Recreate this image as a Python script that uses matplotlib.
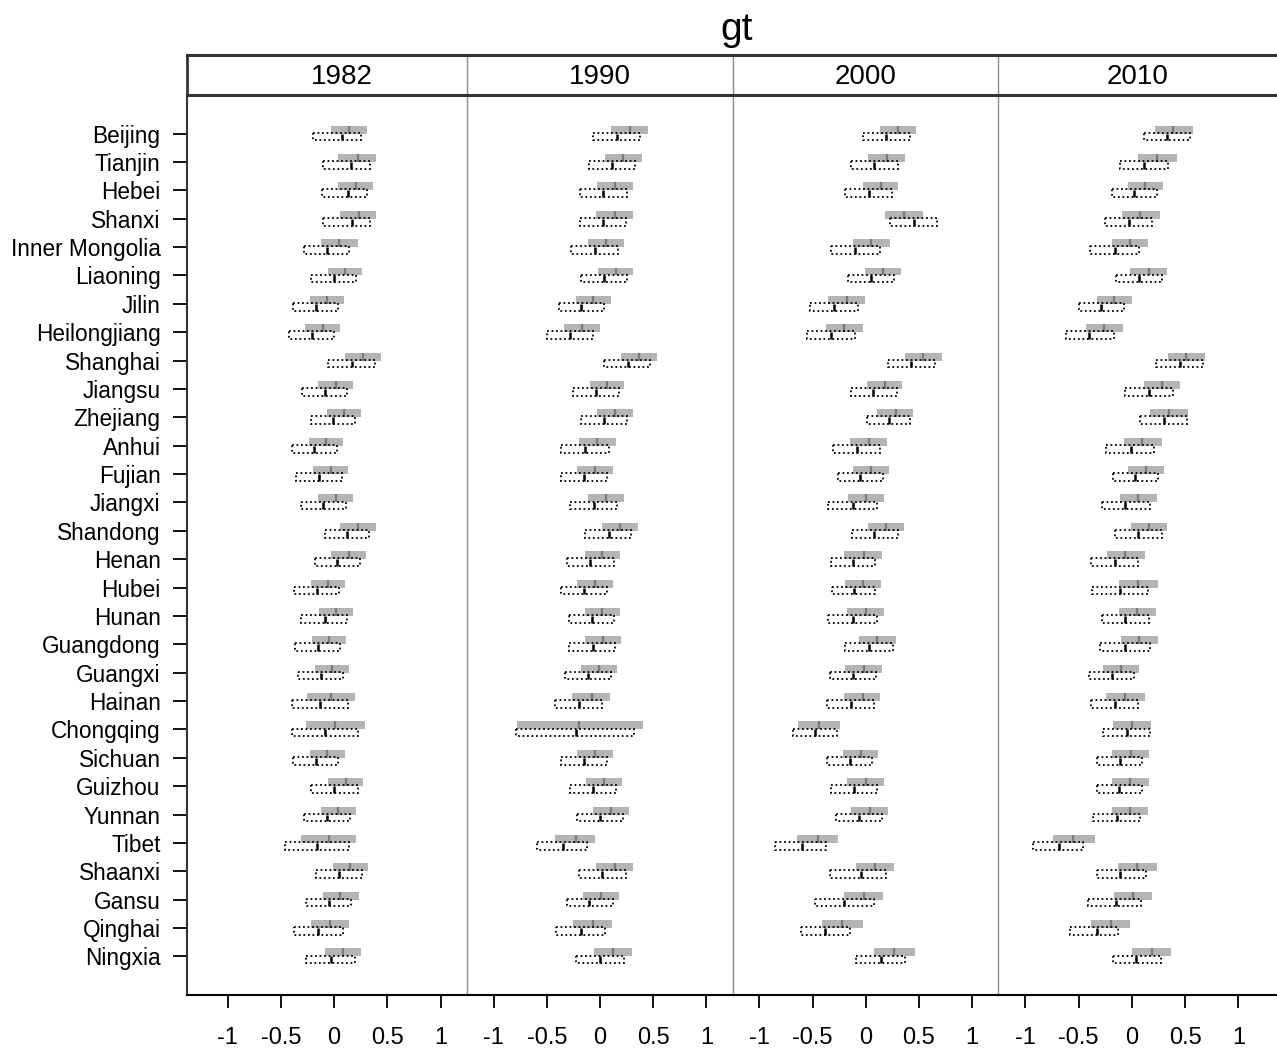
import matplotlib
matplotlib.use("Agg")
import matplotlib.pyplot as plt
import numpy as np

plt.rcParams['font.family'] = ['Liberation Sans', 'DejaVu Sans']

provinces = ["Beijing", "Tianjin", "Hebei", "Shanxi", "Inner Mongolia", "Liaoning", "Jilin",
             "Heilongjiang", "Shanghai", "Jiangsu", "Zhejiang", "Anhui", "Fujian", "Jiangxi",
             "Shandong", "Henan", "Hubei", "Hunan", "Guangdong", "Guangxi", "Hainan",
             "Chongqing", "Sichuan", "Guizhou", "Yunnan", "Tibet", "Shaanxi", "Gansu",
             "Qinghai", "Ningxia"]
years = ["1982", "1990", "2000", "2010"]

# ---- 1982 ----
g82_lo = [-0.03, 0.04, 0.04, 0.06, -0.12, -0.06, -0.23, -0.27, 0.10, -0.15, -0.07, -0.24, -0.20, -0.15, 0.06,
          -0.03, -0.22, -0.14, -0.21, -0.18, -0.25, -0.26, -0.23, -0.06, -0.12, -0.31, -0.01, -0.10, -0.22, -0.09]
g82_hi = [0.31, 0.39, 0.37, 0.39, 0.22, 0.26, 0.09, 0.06, 0.44, 0.18, 0.25, 0.08, 0.13, 0.18, 0.39,
          0.30, 0.10, 0.18, 0.11, 0.14, 0.20, 0.29, 0.10, 0.27, 0.21, 0.21, 0.32, 0.23, 0.14, 0.25]
g82_md = [0.14, 0.22, 0.21, 0.23, 0.05, 0.10, -0.07, -0.10, 0.27, 0.02, 0.09, -0.08, -0.03, 0.02, 0.22,
          0.14, -0.06, 0.02, -0.05, -0.02, -0.03, 0.01, -0.07, 0.11, 0.04, -0.05, 0.15, 0.06, -0.04, 0.08]
d82_lo = [-0.20, -0.10, -0.11, -0.10, -0.28, -0.22, -0.39, -0.42, -0.06, -0.30, -0.22, -0.40, -0.36, -0.31, -0.09,
          -0.18, -0.38, -0.31, -0.37, -0.34, -0.40, -0.40, -0.39, -0.22, -0.28, -0.46, -0.17, -0.26, -0.38, -0.26]
d82_hi = [0.25, 0.34, 0.31, 0.34, 0.14, 0.21, 0.04, 0.00, 0.38, 0.12, 0.20, 0.03, 0.07, 0.11, 0.33,
          0.24, 0.05, 0.12, 0.06, 0.08, 0.13, 0.22, 0.04, 0.22, 0.15, 0.14, 0.26, 0.16, 0.08, 0.20]
d82_md = [0.07, 0.16, 0.13, 0.17, -0.07, 0.00, -0.17, -0.21, 0.17, -0.09, -0.01, -0.19, -0.14, -0.10, 0.12,
          0.03, -0.16, -0.09, -0.15, -0.12, -0.13, -0.09, -0.17, 0.00, -0.07, -0.16, 0.05, -0.05, -0.15, -0.03]

# ---- 1990 ----
g90_lo = [0.10, 0.05, -0.03, -0.04, -0.11, -0.02, -0.23, -0.34, 0.20, -0.09, -0.03, -0.20, -0.22, -0.11, 0.02,
          -0.14, -0.22, -0.14, -0.14, -0.18, -0.26, -0.78, -0.22, -0.13, -0.07, -0.42, -0.04, -0.16, -0.25, -0.06]
g90_hi = [0.45, 0.39, 0.31, 0.31, 0.23, 0.31, 0.10, 0.00, 0.54, 0.23, 0.31, 0.15, 0.12, 0.23, 0.36,
          0.19, 0.12, 0.19, 0.20, 0.16, 0.09, 0.40, 0.12, 0.21, 0.27, -0.05, 0.31, 0.18, 0.11, 0.30]
g90_md = [0.28, 0.22, 0.14, 0.14, 0.06, 0.15, -0.07, -0.17, 0.37, 0.07, 0.14, -0.03, -0.05, 0.06, 0.19,
          0.02, -0.05, 0.02, 0.03, -0.01, -0.08, -0.20, -0.05, 0.04, 0.10, -0.23, 0.14, 0.01, -0.07, 0.12]
d90_lo = [-0.07, -0.10, -0.19, -0.19, -0.27, -0.18, -0.39, -0.50, 0.04, -0.25, -0.18, -0.37, -0.37, -0.28, -0.14,
          -0.31, -0.37, -0.29, -0.29, -0.33, -0.42, -0.79, -0.37, -0.28, -0.22, -0.59, -0.20, -0.31, -0.41, -0.23]
d90_hi = [0.38, 0.33, 0.25, 0.24, 0.17, 0.25, 0.04, -0.07, 0.47, 0.18, 0.25, 0.08, 0.07, 0.16, 0.29,
          0.13, 0.07, 0.13, 0.14, 0.10, 0.02, 0.32, 0.07, 0.15, 0.22, -0.12, 0.24, 0.12, 0.05, 0.23]
d90_md = [0.16, 0.11, 0.03, 0.03, -0.05, 0.04, -0.18, -0.28, 0.26, -0.04, 0.04, -0.14, -0.15, -0.06, 0.08,
          -0.09, -0.15, -0.08, -0.07, -0.11, -0.20, -0.23, -0.15, -0.07, 0.00, -0.35, 0.02, -0.10, -0.18, 0.00]

# ---- 2000 ----
g00_lo = [0.13, 0.02, -0.03, 0.18, -0.12, -0.01, -0.35, -0.37, 0.37, 0.01, 0.11, -0.15, -0.12, -0.17, 0.02,
          -0.20, -0.19, -0.18, -0.06, -0.19, -0.20, -0.64, -0.21, -0.18, -0.14, -0.65, -0.09, -0.20, -0.41, 0.08]
g00_hi = [0.47, 0.37, 0.30, 0.54, 0.23, 0.33, -0.01, -0.03, 0.72, 0.34, 0.44, 0.20, 0.22, 0.17, 0.36,
          0.15, 0.14, 0.17, 0.28, 0.15, 0.13, -0.24, 0.12, 0.17, 0.21, -0.26, 0.27, 0.16, -0.03, 0.46]
g00_md = [0.30, 0.20, 0.14, 0.36, 0.05, 0.16, -0.18, -0.20, 0.54, 0.18, 0.28, 0.03, 0.05, 0.00, 0.19,
          -0.02, -0.03, 0.00, 0.11, -0.02, -0.03, -0.44, -0.04, 0.00, 0.04, -0.45, 0.09, -0.02, -0.22, 0.27]
d00_lo = [-0.03, -0.14, -0.19, 0.23, -0.33, -0.17, -0.52, -0.55, 0.21, -0.14, 0.01, -0.31, -0.26, -0.35, -0.13,
          -0.33, -0.32, -0.35, -0.19, -0.34, -0.36, -0.68, -0.36, -0.33, -0.28, -0.85, -0.34, -0.48, -0.61, -0.09]
d00_hi = [0.42, 0.30, 0.25, 0.67, 0.13, 0.27, -0.07, -0.10, 0.65, 0.29, 0.42, 0.13, 0.16, 0.11, 0.30,
          0.09, 0.09, 0.11, 0.26, 0.10, 0.08, -0.27, 0.06, 0.11, 0.15, -0.37, 0.19, 0.08, -0.15, 0.37]
d00_md = [0.19, 0.08, 0.03, 0.45, -0.10, 0.05, -0.30, -0.33, 0.43, 0.07, 0.22, -0.08, -0.05, -0.12, 0.08,
          -0.12, -0.11, -0.12, 0.03, -0.12, -0.14, -0.48, -0.15, -0.11, -0.06, -0.60, -0.04, -0.20, -0.38, 0.14]

# ---- 2010 ----
g10_lo = [0.22, 0.06, -0.04, -0.09, -0.19, -0.02, -0.33, -0.43, 0.34, 0.11, 0.17, -0.07, -0.04, -0.11, -0.01,
          -0.23, -0.12, -0.12, -0.10, -0.27, -0.24, -0.18, -0.19, -0.19, -0.19, -0.74, -0.13, -0.17, -0.38, 0.00]
g10_hi = [0.57, 0.42, 0.29, 0.26, 0.15, 0.33, 0.00, -0.08, 0.69, 0.45, 0.53, 0.28, 0.30, 0.24, 0.33,
          0.12, 0.25, 0.23, 0.25, 0.07, 0.12, 0.18, 0.16, 0.16, 0.15, -0.35, 0.24, 0.19, -0.02, 0.37]
g10_md = [0.39, 0.24, 0.12, 0.08, -0.02, 0.16, -0.17, -0.26, 0.51, 0.28, 0.35, 0.10, 0.13, 0.06, 0.16,
          -0.06, 0.06, 0.05, 0.07, -0.10, -0.06, 0.00, -0.01, -0.02, -0.02, -0.55, 0.05, 0.01, -0.20, 0.19]
d10_lo = [0.11, -0.11, -0.19, -0.25, -0.39, -0.15, -0.50, -0.62, 0.23, -0.06, 0.08, -0.24, -0.18, -0.28, -0.16,
          -0.38, -0.37, -0.28, -0.30, -0.40, -0.38, -0.27, -0.33, -0.33, -0.36, -0.93, -0.33, -0.41, -0.58, -0.18]
d10_hi = [0.55, 0.34, 0.24, 0.19, 0.07, 0.28, -0.07, -0.17, 0.67, 0.39, 0.52, 0.21, 0.25, 0.17, 0.28,
          0.06, 0.15, 0.16, 0.17, 0.02, 0.06, 0.17, 0.10, 0.10, 0.08, -0.46, 0.13, 0.09, -0.13, 0.27]
d10_md = [0.33, 0.11, 0.02, -0.03, -0.16, 0.07, -0.29, -0.40, 0.45, 0.16, 0.30, -0.01, 0.03, -0.06, 0.06,
          -0.16, -0.11, -0.06, -0.06, -0.19, -0.16, -0.05, -0.11, -0.12, -0.14, -0.68, -0.11, -0.15, -0.33, 0.04]

panels = [
    (g82_lo, g82_hi, g82_md, d82_lo, d82_hi, d82_md),
    (g90_lo, g90_hi, g90_md, d90_lo, d90_hi, d90_md),
    (g00_lo, g00_hi, g00_md, d00_lo, d00_hi, d00_md),
    (g10_lo, g10_hi, g10_md, d10_lo, d10_hi, d10_md),
]
xticks = [-1, -0.5, 0, 0.5, 1]
xticklabels = ["-1", "-0.5", "0", "0.5", "1"]

W, H = 1277, 1048
fig = plt.figure(figsize=(W / 100, H / 100), dpi=100)

edges = [187, 466.7, 732.7, 998.3, 1279]
xlims = [(-1.382, 1.246), (-1.253, 1.247), (-1.250, 1.246), (-1.254, 1.382)]
top_px, bot_px = 95, 995
strip_top = 55

n = len(provinces)
ypos = np.arange(n)
darkc = "#333333"
gridc = "#8c8c8c"

for k in range(4):
    x0, x1 = edges[k], edges[k + 1]
    ax = fig.add_axes([x0 / W, 1 - bot_px / H, (x1 - x0) / W, (bot_px - top_px) / H])
    glo, ghi, gmd, dlo, dhi, dmd = [np.array(a) for a in panels[k]]
    ax.barh(ypos - 0.14, ghi - glo, left=glo, height=0.28, color="#b4b4b4", edgecolor="none", zorder=2)
    ax.vlines(gmd, ypos - 0.28, ypos, color="#7a7a7a", lw=1.6, zorder=3)
    ax.barh(ypos + 0.105, dhi - dlo, left=dlo, height=0.27, fill=False, edgecolor="black",
            lw=1.3, linestyle=(0, (1, 1.5)), zorder=4)
    ax.vlines(dmd, ypos, ypos + 0.24, color="black", lw=1.8, zorder=5)

    ax.set_xlim(*xlims[k])
    ax.set_ylim(n - 1 + 1.36, -1.36)
    ax.set_xticks(xticks)
    ax.set_xticklabels(xticklabels, fontsize=17)
    ax.tick_params(axis="x", direction="out", length=9, width=1.3, pad=14, color="black")
    if k == 0:
        ax.set_yticks(ypos)
        ax.set_yticklabels(provinces, fontsize=16.3)
        ax.tick_params(axis="y", direction="out", length=10, width=1.3, pad=9, color="black")
    else:
        ax.set_yticks([])
    for s in ["top", "right", "left", "bottom"]:
        ax.spines[s].set_visible(False)
    ax.spines["bottom"].set_visible(True)
    ax.spines["bottom"].set_linewidth(1.5)
    ax.spines["bottom"].set_color("black")
    ax.spines["left"].set_visible(True)
    if k == 0:
        ax.spines["left"].set_linewidth(1.5)
        ax.spines["left"].set_color(darkc)
    else:
        ax.spines["left"].set_linewidth(1.0)
        ax.spines["left"].set_color(gridc)

    sax = fig.add_axes([x0 / W, 1 - top_px / H, (x1 - x0) / W, (top_px - strip_top) / H])
    sax.set_xticks([])
    sax.set_yticks([])
    sax.set_xlim(0, 1)
    sax.set_ylim(0, 1)
    for s in ["top", "bottom"]:
        sax.spines[s].set_linewidth(2.2)
        sax.spines[s].set_color(darkc)
    sax.spines["right"].set_visible(False)
    if k == 0:
        sax.spines["left"].set_linewidth(2.0)
        sax.spines["left"].set_color(darkc)
    else:
        sax.spines["left"].set_linewidth(1.0)
        sax.spines["left"].set_color(gridc)
    centers = [342, 599.7, 865.5, 1138]
    cx = (centers[k] - x0) / (x1 - x0)
    sax.text(cx, 0.45, years[k], ha="center", va="center", fontsize=20)

fig.text(737 / W, 1 - 30 / H, "gt", ha="center", va="center", fontsize=28)

fig.savefig("out.png", dpi=100)
